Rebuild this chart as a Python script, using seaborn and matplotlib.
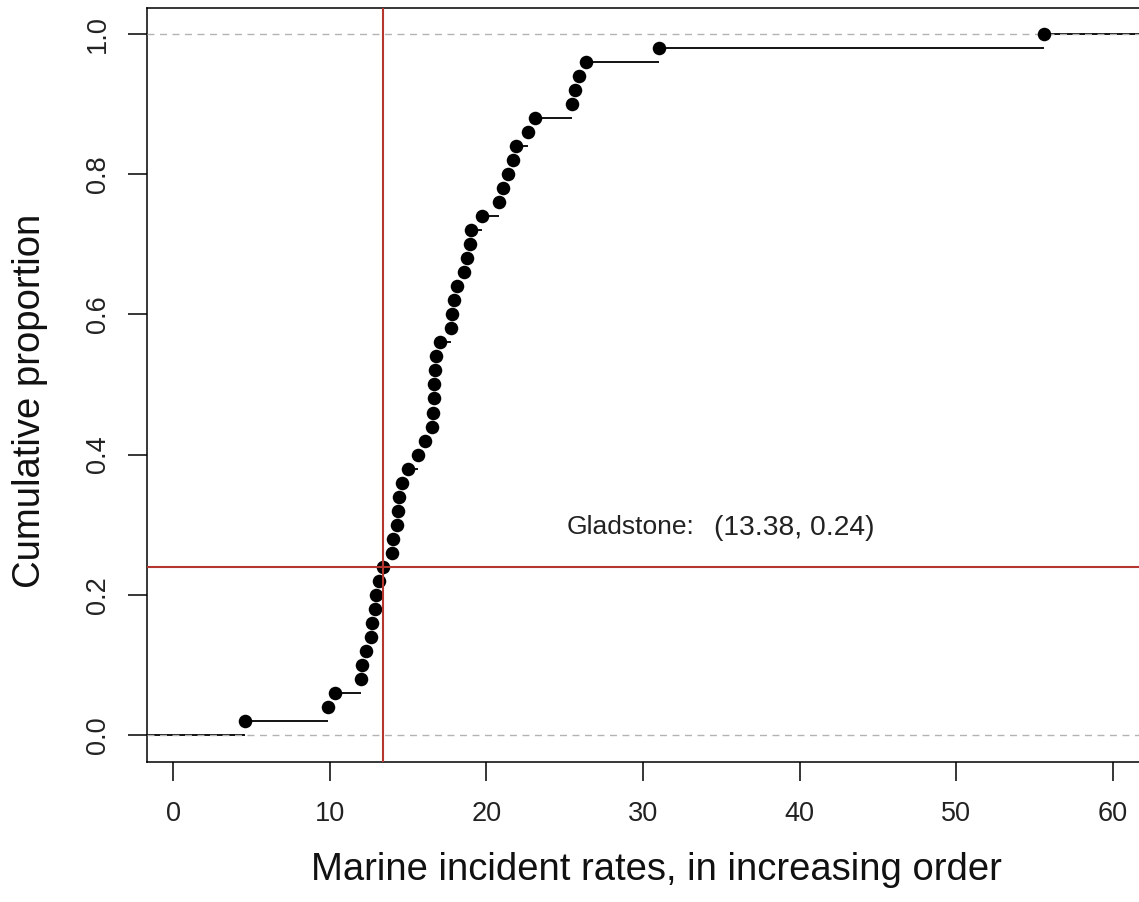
import numpy as np
import pandas as pd
import matplotlib
matplotlib.use("Agg")
import matplotlib.pyplot as plt
import seaborn as sns

# ---- data ----
rates = [4.6, 9.9, 10.3, 12.0, 12.05, 12.3, 12.62, 12.68, 12.88, 12.93,
         13.12, 13.38, 13.98, 14.03, 14.28, 14.38, 14.42, 14.62, 15.0, 15.65,
         16.1, 16.5, 16.58, 16.62, 16.68, 16.72, 16.76, 17.05, 17.72, 17.78,
         17.9, 18.1, 18.55, 18.75, 18.96, 19.02, 19.7, 20.8, 21.05, 21.4,
         21.7, 21.9, 22.65, 23.07, 25.45, 25.65, 25.9, 26.37, 31.0, 55.6]
x_ticks = [0, 10, 20, 30, 40, 50, 60]
y_ticks = [0.0, 0.2, 0.4, 0.6, 0.8, 1.0]
y_tick_labels = ["0.0", "0.2", "0.4", "0.6", "0.8", "1.0"]
highlight_name = "Gladstone:"
highlight_x = 13.38
highlight_y = 0.24
x_label = "Marine incident rates, in increasing order"
y_label = "Cumulative proportion"

sns.set_style("white")
plt.rcParams['font.family'] = ['Liberation Sans', 'DejaVu Sans']

W, H = 1139, 902
fig = plt.figure(figsize=(W / 100, H / 100), dpi=100)
left_px, right_px, top_px, bottom_px = 146.7, 1141, 8.3, 762.3
ax = fig.add_axes([left_px / W, 1 - bottom_px / H,
                   (right_px - left_px) / W, (bottom_px - top_px) / H])

xs = np.sort(np.array(rates))
n = len(xs)
props = np.arange(1, n + 1) / n
df = pd.DataFrame({"rate": xs, "prop": props})

xlim = (-1.70, 61.8)
ylim = (-0.0386, 1.0362)

# step segments (R ecdf style: horizontal only)
next_x = np.append(xs[1:], xlim[1])
ax.hlines(df["prop"], df["rate"], next_x, color="black", lw=1.3, zorder=2)
ax.hlines(0, xlim[0], xs[0], color="black", lw=1.3, zorder=2)

# reference dashed lines
ax.axhline(0, color="#b3b3b3", lw=1.0, ls=(0, (5, 4)), zorder=3)
ax.axhline(1, color="#b3b3b3", lw=1.0, ls=(0, (5, 4)), zorder=3)

sns.scatterplot(data=df, x="rate", y="prop", ax=ax, color="black", s=95,
                edgecolor="black", linewidth=0, zorder=4, legend=False)

# highlight lines
ax.axvline(highlight_x, color="#b5352f", lw=1.5, zorder=5)
ax.axhline(highlight_y, color="#b5352f", lw=1.5, zorder=5)

ax.text(25.14, 0.297, highlight_name, fontsize=19, va="center", ha="left", color="#222222")
ax.text(34.53, 0.295, f"({highlight_x:.2f}, {highlight_y:.2f})", fontsize=20.3,
        va="center", ha="left", color="#222222")

ax.set_xlim(*xlim)
ax.set_ylim(*ylim)
ax.set_xticks(x_ticks)
ax.set_xticklabels([str(t) for t in x_ticks])
ax.set_yticks(y_ticks)
ax.set_yticklabels(y_tick_labels, rotation=90, va="center")

ax.tick_params(axis="both", which="major", direction="out", length=14, width=1.1,
               color="black", labelsize=19.5, labelcolor="#222222", bottom=True, left=True)
ax.tick_params(axis="x", pad=14)
ax.tick_params(axis="y", pad=12)

for sp in ax.spines.values():
    sp.set_color("black")
    sp.set_linewidth(1.1)

ax.set_xlabel(x_label, fontsize=27.5, color="#111111", va="center")
ax.xaxis.set_label_coords((656 - left_px) / (right_px - left_px),
                          (bottom_px - 870) / (bottom_px - top_px))
ax.set_ylabel(y_label, fontsize=27.5, color="#111111", va="center")
ax.yaxis.set_label_coords((30 - left_px) / (right_px - left_px),
                          (bottom_px - 401) / (bottom_px - top_px))

fig.savefig("out.png", dpi=100, facecolor="white")
